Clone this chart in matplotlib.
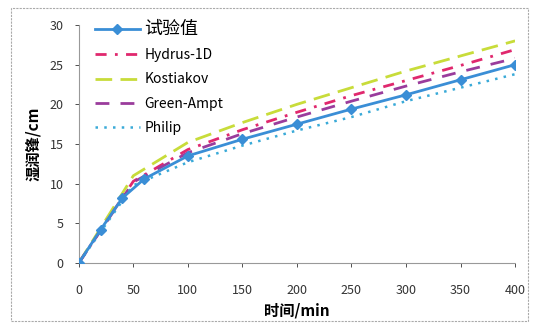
import matplotlib.pyplot as plt
from matplotlib.patches import Rectangle

plt.rcParams['font.family'] = ['Noto Sans CJK SC', 'DejaVu Sans']

# measured wetting front
t_obs = [0, 20, 40, 60, 100, 150, 200, 250, 300, 350, 400]
y_obs = [0, 4.2, 8.2, 10.6, 13.5, 15.6, 17.5, 19.4, 21.2, 23.1, 25.0]

# model results
t_mod = [0, 50, 100, 150, 200, 250, 300, 350, 400]
y_hydrus = [0, 10.3, 14.3, 16.8, 19.0, 21.1, 23.0, 24.9, 26.9]
y_kostiakov = [0, 11.0, 15.2, 17.7, 20.0, 22.1, 24.2, 26.1, 28.0]
y_green = [0, 10.2, 13.9, 16.3, 18.4, 20.4, 22.3, 24.1, 25.8]
y_philip = [0, 9.8, 12.7, 14.8, 16.7, 18.4, 20.4, 22.1, 23.8]

x_ticks = [0, 50, 100, 150, 200, 250, 300, 350, 400]
y_ticks = [0, 5, 10, 15, 20, 25, 30]

fig = plt.figure(figsize=(5.36, 3.29), dpi=100)
ax = fig.add_axes([0.147, 0.2006, 0.814, 0.7234])

ax.plot(t_mod, y_kostiakov, color='#c8dc3a', lw=2, ls=(0, (6, 3)), label='Kostiakov', zorder=2)
ax.plot(t_mod, y_hydrus, color='#e0286e', lw=2, ls=(0, (4, 3, 1, 3)), label='Hydrus-1D', zorder=2)
ax.plot(t_mod, y_green, color='#9a3c9c', lw=2, ls=(0, (5, 4)), label='Green-Ampt', zorder=2)
ax.plot(t_mod, y_philip, color='#3aaad8', lw=1.8, ls=(0, (1, 2.5)), label='Philip', zorder=2)
ax.plot(t_obs, y_obs, color='#3a8ed6', lw=2, marker='D', ms=5, label='试验值', zorder=3)

ax.set_xlim(0, 400)
ax.set_ylim(0, 30)
ax.set_xticks(x_ticks)
ax.set_yticks(y_ticks)
ax.tick_params(labelsize=9, colors='#333333', length=3, width=0.6, pad=8)
ax.tick_params(axis='x', pad=12)
for side in ['top', 'right']:
    ax.spines[side].set_visible(False)
for side in ['left', 'bottom']:
    ax.spines[side].set_color('#999999')
    ax.spines[side].set_linewidth(0.8)
    ax.spines[side].set_linestyle((0, (2, 1)))

ax.set_xlabel('时间/min', fontsize=11, fontweight='bold', labelpad=4)
ax.set_ylabel('湿润锋/cm', fontsize=11, fontweight='bold', labelpad=6)

handles, labels = ax.get_legend_handles_labels()
order = [4, 1, 0, 2, 3]
leg = ax.legend([handles[i] for i in order], [labels[i] for i in order],
                loc='upper left', bbox_to_anchor=(0.009, 1.075), frameon=False,
                fontsize=10, handlelength=3.2, labelspacing=0.75, handletextpad=0.35)
leg.get_texts()[0].set_fontsize(13)

# dotted frame round the whole picture
fig.patches.append(Rectangle((0.02, 0.025), 0.965, 0.95, transform=fig.transFigure,
                             fill=False, ec='#aaaaaa', lw=0.8, ls=(0, (2, 1))))

fig.savefig('out.png', dpi=100)
